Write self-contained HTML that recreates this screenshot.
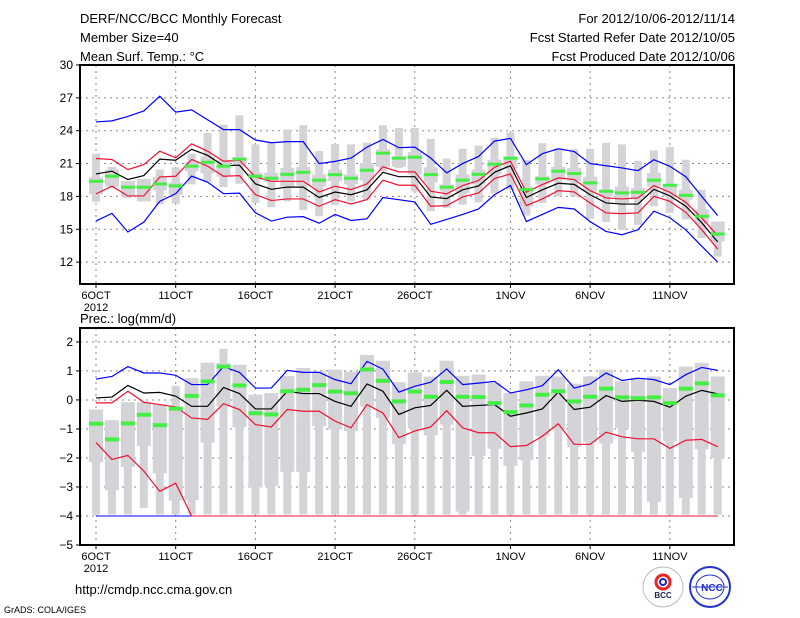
<!DOCTYPE html>
<html><head><meta charset="utf-8"><style>
body{margin:0;background:#fff;width:800px;height:618px;overflow:hidden}
svg{display:block;font-family:"Liberation Sans",sans-serif}
</style></head><body>
<svg id="c" width="800" height="618" viewBox="0 0 800 618">
<g font-size="13" fill="#000">
<text x="80" y="23">DERF/NCC/BCC Monthly Forecast</text>
<text x="80" y="42">Member Size=40</text>
<text x="80" y="61">Mean Surf. Temp.: °C</text>
</g>
<g font-size="13" fill="#000" text-anchor="end">
<text x="735" y="23">For 2012/10/06-2012/11/14</text>
<text x="735" y="42">Fcst Started Refer Date 2012/10/05</text>
<text x="735" y="61">Fcst Produced Date 2012/10/06</text>
</g>
<text x="80" y="323" font-size="13">Prec.: log(mm/d)</text>
<text x="75" y="594" font-size="13">http://cmdp.ncc.cma.gov.cn</text>
<text x="4" y="613" font-size="9">GrADS: COLA/IGES</text>
<g>
<circle cx="663" cy="587" r="20" fill="#fff" stroke="#bbb"/>
<circle cx="663" cy="582" r="7" fill="none" stroke="#e22" stroke-width="3"/>
<circle cx="663" cy="582" r="3" fill="none" stroke="#22c" stroke-width="2"/>
<text x="663" y="598" font-size="8" text-anchor="middle" font-weight="bold" fill="#225">BCC</text>
</g>
<g>
<circle cx="710" cy="587" r="20" fill="#fff" stroke="#23c" stroke-width="2"/>
<ellipse cx="710" cy="587" rx="14" ry="12" fill="none" stroke="#23c"/>
<line x1="692" y1="587" x2="728" y2="587" stroke="#23c"/>
<text x="712" y="591" font-size="10" text-anchor="middle" font-weight="bold" fill="#23c">NCC</text>
</g>
<g id="top"></g>
<g id="bot"></g>
</svg>
<script>
const tBlueHi=[24.8,24.9,25.3,25.8,27.15,25.7,25.9,25.0,24.1,24.1,23.15,22.9,23.0,23.0,21.0,21.2,21.5,22.5,23.2,22.45,22.5,21.5,20.15,21.0,21.65,23.05,23.3,20.9,21.9,22.35,22.1,21.0,20.8,20.6,20.35,21.35,20.75,19.8,18.0,16.25];
const tBlueLo=[15.75,16.45,14.75,15.65,17.55,18.25,19.85,19.3,18.25,18.3,16.5,15.75,16.1,16.15,15.55,16.35,15.8,15.95,17.9,17.7,17.5,15.45,15.9,16.35,16.85,18.15,19.0,15.7,16.35,17.0,16.85,15.7,14.8,14.5,14.95,16.65,16.05,14.95,13.45,12.0];
const tMean=[20.05,20.3,19.55,19.9,21.4,21.3,22.3,21.75,20.8,20.85,19.15,18.65,18.85,18.85,17.9,18.4,18.15,18.6,20.2,19.8,19.8,17.95,17.8,18.6,18.95,20.2,20.8,17.9,18.6,19.2,19.1,18.15,17.4,17.3,17.3,18.65,18.05,17.1,15.6,13.85];
const tRedHi=[21.46,21.37,20.45,20.91,22.13,21.52,22.8,22.13,21.21,21.3,19.78,19.38,19.38,19.38,18.41,18.93,18.62,19.14,20.7,20.24,20.24,18.47,18.23,18.99,19.45,20.66,21.21,18.38,19.08,19.69,19.54,18.53,17.86,17.77,17.86,18.99,18.38,17.46,16.03,14.41];
const tRedLo=[18.23,18.93,18.04,18.04,19.78,19.84,21.37,20.76,19.84,19.9,18.16,17.62,17.77,17.77,17.1,17.71,17.31,17.71,19.48,19.02,19.02,17.1,17.16,17.95,18.32,19.63,20.05,17.16,17.77,18.53,18.41,17.4,16.49,16.43,16.49,18.01,17.55,16.55,14.96,13.2];
const tGreen=[19.38,19.84,18.84,18.84,19.14,18.96,20.76,21.12,20.76,21.4,19.84,19.66,20.02,20.2,19.48,19.99,19.66,20.39,21.95,21.49,21.58,19.99,18.84,19.48,20.02,20.94,21.49,18.62,19.6,20.3,20.09,19.23,18.47,18.32,18.38,19.48,19.02,18.1,16.18,14.57];
const tWhiskHi=[21.9,20.7,19.4,19.6,20.45,20.65,21.9,23.8,24.55,25.4,22.75,22.9,24.1,24.5,22.15,22.8,22.75,22.9,24.5,24.25,24.25,23.25,21.45,22.35,22.65,23.35,23.85,21.35,22.85,22.35,22.3,22.35,22.9,22.75,21.25,22.2,22.5,21.35,18.6,15.7];
const tWhiskLo=[17.5,18.8,17.85,17.55,17.3,17.35,19.1,19.3,18.85,19.15,17.4,17.0,17.55,16.75,16.2,17.2,17.55,17.7,20.3,20.6,18.45,16.65,16.95,17.25,17.45,18.3,18.6,16.25,17.4,18.0,18.0,15.95,15.65,14.95,15.4,17.1,16.5,15.9,14.2,12.5];
const tBoxHi=[19.75,20.45,19.4,19.6,19.75,19.25,21.15,21.65,21.35,21.6,20.15,20.15,20.6,20.7,20.0,20.45,20.0,21.05,22.3,21.65,22.05,20.65,19.1,20.0,20.45,21.35,21.65,18.9,19.85,20.7,20.6,19.8,18.55,18.9,18.75,20.15,19.1,18.6,16.8,15.7];
const tBoxLo=[18.2,18.9,18.0,17.55,18.55,18.15,20.3,20.1,19.8,20.8,19.55,19.3,18.9,19.0,18.9,19.4,19.1,19.45,20.7,20.7,20.0,19.25,18.45,18.3,19.1,20.0,20.6,17.1,19.1,19.55,19.4,18.45,18.0,17.4,17.85,18.9,18.0,17.7,15.55,13.9];
const tTicks=[12,15,18,21,24,27,30];
const pBlue=[0.72,0.81,1.15,0.93,0.93,0.85,0.53,0.53,1.15,0.95,0.41,0.41,1.02,0.95,0.95,0.7,0.56,1.33,1.06,0.27,0.47,0.61,1.07,0.53,0.58,0.64,0.24,0.35,0.49,1.04,0.41,0.55,0.93,0.67,0.75,0.7,0.53,0.87,1.12,1.02];
const pMean=[0.07,0.1,0.5,0.24,0.26,0.13,-0.22,-0.22,0.43,0.22,-0.31,-0.31,0.3,0.22,0.22,-0.05,-0.22,0.55,0.3,-0.5,-0.27,-0.19,0.33,-0.22,-0.19,-0.16,-0.56,-0.45,-0.31,0.27,-0.33,-0.25,0.15,-0.05,-0.01,-0.05,-0.25,0.13,0.33,0.21];
const pRedHi=[-0.1,-0.1,0.3,-0.08,-0.16,-0.24,-0.62,-0.67,-0.13,-0.33,-0.85,-0.93,-0.33,-0.39,-0.39,-0.73,-0.96,-0.16,-0.45,-1.3,-1.07,-0.93,-0.37,-0.96,-1.13,-1.13,-1.61,-1.57,-1.25,-0.82,-1.53,-1.53,-1.11,-1.27,-1.34,-1.34,-1.67,-1.39,-1.36,-1.61];
const pRedLo=[-1.47,-2.05,-1.91,-2.45,-3.15,-2.87,-4];
const pGreen=[-0.82,-1.36,-0.81,-0.51,-0.87,-0.3,0.14,0.64,1.15,0.5,-0.46,-0.5,0.3,0.35,0.51,0.29,0.23,1.05,0.66,-0.05,0.29,0.11,0.62,0.11,0.1,-0.11,-0.42,-0.19,0.18,0.3,-0.05,0.11,0.39,0.09,0.06,0.09,-0.11,0.39,0.57,0.16];
const pBoxHi=[-0.33,-0.7,-0.08,-0.08,-0.16,-0.33,0.75,1.28,1.27,1.21,0.18,0.24,0.83,1.1,0.98,1.04,0.98,1.55,1.35,0.61,0.95,0.8,1.35,0.83,0.87,0.58,0.24,0.64,0.83,0.81,0.56,0.81,1.04,0.64,0.75,0.81,0.41,1.15,1.28,0.81];
const pBoxLo=[-2.14,-3.11,-2.31,-1.59,-2.53,-3.47,-3.45,-1.47,-0.22,-0.94,-3.02,-2.96,-2.48,-2.48,-0.9,-1.02,-1.07,-0.22,-0.62,-1.53,-0.98,-1.22,-0.85,-3.85,-1.93,-1.68,-2.27,-2.08,-1.25,-1.02,-1.62,-1.45,-1.5,-0.96,-1.79,-3.51,-1.42,-3.38,-1.7,-2.0];
const pWhiskHi=[-0.33,-0.7,-0.08,-0.08,-0.16,0.49,0.75,1.28,1.76,1.21,0.18,0.24,0.83,1.1,0.98,1.04,0.98,1.55,1.35,0.61,0.95,0.8,1.35,0.83,0.87,0.58,0.24,0.64,0.83,0.81,0.56,0.81,1.04,0.64,0.75,0.81,0.41,1.15,1.28,0.81];
const pWhiskLo=[-3.95,-3.95,-3.95,-3.73,-3.95,-3.95,-3.95,-3.95,-3.95,-3.95,-3.95,-3.95,-3.95,-3.95,-3.95,-3.95,-3.95,-3.95,-3.95,-3.95,-3.95,-3.95,-3.95,-3.95,-3.95,-3.95,-3.95,-3.95,-3.95,-3.95,-3.95,-3.95,-3.95,-3.95,-3.95,-3.95,-3.95,-3.95,-3.95,-3.95];
const pTicks=[-5,-4,-3,-2,-1,0,1,2];
const xTickDays=[0,5,10,15,20,26,31,36];
const xTickLabels=["6OCT","11OCT","16OCT","21OCT","26OCT","1NOV","6NOV","11NOV"];

const NS="http://www.w3.org/2000/svg";
const X0=80,X1=734;
const xs=d=>96+d*15.94;
function el(p,tag,a){const e=document.createElementNS(NS,tag);for(const k in a)e.setAttribute(k,a[k]);p.appendChild(e);return e;}
function panel(g,top,bot,vmin,vmax,ticks,tickFmt){
  const ys=v=>bot-(v-vmin)/(vmax-vmin)*(bot-top);
  ticks.forEach(t=>{if(t===vmin||t===vmax&&ys(t)<=top+1)return;
    const l=el(g,'line',{x1:X0,x2:X1,y1:ys(t),y2:ys(t),stroke:'#888','stroke-dasharray':'2,4'});
    
    });
  xTickDays.forEach(d=>{const l=el(g,'line',{x1:xs(d),x2:xs(d),y1:top,y2:bot,stroke:'#888','stroke-dasharray':'2,4'});
    
    });
  ticks.forEach(t=>{const y=ys(t);
    el(g,'line',{x1:X0-4,x2:X0,y1:y,y2:y,stroke:'#000'});
    const tx=el(g,'text',{x:X0-7,y:y+4,'font-size':12,'text-anchor':'end'});tx.textContent=tickFmt(t);
    
    });
  xTickDays.forEach((d,i)=>{el(g,'line',{x1:xs(d),x2:xs(d),y1:bot,y2:bot+4,stroke:'#000'});
    const tx=el(g,'text',{x:xs(d),y:bot+15,'font-size':11,'text-anchor':'middle'});tx.textContent=xTickLabels[i];
    
    });
  const yr=el(g,'text',{x:xs(0),y:bot+27,'font-size':11,'text-anchor':'middle'});yr.textContent='2012';
  
  
  return ys;
}
function line(g,ys,arr,color,name,off){const pts=arr.map((v,i)=>xs(i+(off||0))+','+ys(v)).join(' ');
  const p=el(g,'polyline',{points:pts,fill:'none',stroke:color,'stroke-width':1.2});
  
  }
function rect(g,x,w,ya,yb,fill,name){const r=el(g,'rect',{x:x-w/2,y:Math.min(ya,yb),width:w,height:Math.abs(yb-ya),fill:fill});
  
  }

const gt=document.getElementById('top');
const yt=panel(gt,65,284,10,30,tTicks,t=>t);
tMean.forEach((_,i)=>{rect(gt,xs(i),8,yt(tWhiskHi[i]),yt(tWhiskLo[i]),'#d4d4d8','temp-whisker');
  rect(gt,xs(i),14,yt(tBoxHi[i]),yt(tBoxLo[i]),'#d4d4d8','temp-box');});
line(gt,yt,tBlueHi,'#0000ff','temp-max-line');line(gt,yt,tBlueLo,'#0000ff','temp-min-line');
line(gt,yt,tRedHi,'#ee1133','temp-upper-line');line(gt,yt,tRedLo,'#ee1133','temp-lower-line');
line(gt,yt,tMean,'#000','temp-mean-line');
tGreen.forEach((v,i)=>rect(gt,xs(i),14,yt(v)-1.5,yt(v)+1.5,'#44ee44','temp-observed-bar'));
el(gt,'rect',{x:X0,y:65,width:X1-X0,height:219,fill:'none',stroke:'#000','stroke-width':2});

const gb=document.getElementById('bot');
const yb=panel(gb,328,545,-5,2.48,pTicks,t=>t<0?'\u2212'+(-t):t);
pMean.forEach((_,i)=>{rect(gb,xs(i),8,yb(pWhiskHi[i]),yb(pWhiskLo[i]),'#d4d4d8','prec-whisker');
  rect(gb,xs(i),14,yb(pBoxHi[i]),yb(pBoxLo[i]),'#d4d4d8','prec-box');});
const fl=el(gb,'line',{x1:xs(6),x2:xs(39),y1:yb(-4),y2:yb(-4),stroke:'#ee1133'});


const fb=el(gb,'line',{x1:xs(0),x2:xs(6),y1:yb(-4),y2:yb(-4),stroke:'#0000ff'});


line(gb,yb,pBlue,'#0000ff','prec-max-line');
line(gb,yb,pRedHi,'#ee1133','prec-upper-line');
line(gb,yb,pRedLo,'#ee1133','prec-lower-line');
line(gb,yb,pMean,'#000','prec-mean-line');
pGreen.forEach((v,i)=>rect(gb,xs(i),14,yb(v)-2,yb(v)+2,'#44ee44','prec-observed-bar'));
el(gb,'rect',{x:X0,y:328,width:X1-X0,height:217,fill:'none',stroke:'#000','stroke-width':2});
</script>
</body></html>
